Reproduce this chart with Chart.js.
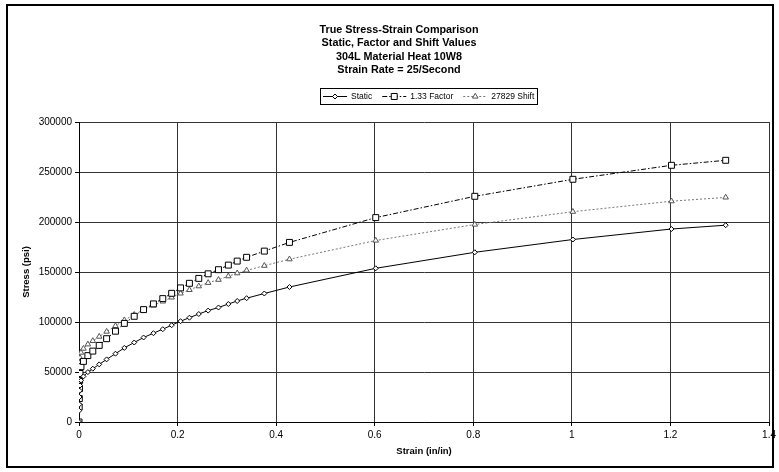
<!DOCTYPE html>
<html>
<head>
<meta charset="utf-8">
<title>True Stress-Strain Comparison</title>
<script src="https://cdn.jsdelivr.net/npm/chart.js@4.4.1/dist/chart.umd.min.js"></script>
<style>
  html, body { margin: 0; padding: 0; background: #fff; overflow: hidden; }
  #chart { display: block; }
</style>
</head>
<body>
<canvas id="chart" width="779" height="472"></canvas>
<script>
// strain (in/in), shared by the three curves
const strain = [0, 0.0004, 0.0007, 0.001, 0.0013, 0.002, 0.004, 0.009, 0.018, 0.028, 0.041, 0.056,
  0.074, 0.092, 0.112, 0.131, 0.151, 0.170, 0.188, 0.206, 0.224, 0.243, 0.262, 0.283, 0.303,
  0.321, 0.340, 0.376, 0.427, 0.602, 0.803, 1.002, 1.202, 1.312];

// stress (psi)
const staticStress = [0, 11300, 17600, 25000, 31300, 36500, 41600, 45600, 49900, 53300, 57600, 62600,
  68300, 74100, 79500, 84500, 88800, 92800, 96800, 100800, 104300, 108000, 111400, 114500, 118000,
  121000, 123800, 128500, 135000, 153700, 169700, 182500, 193000, 196800];
const factorStress = [0, 15000, 23400, 33300, 41600, 48500, 55300, 60600, 66400, 70900, 76600, 83300,
  90800, 98600, 105700, 112400, 118100, 123400, 128700, 134100, 138700, 143600, 148200, 152300, 156900,
  160900, 164700, 170900, 179600, 204400, 225700, 242700, 256700, 261700];
const shiftStress = [0, 39100, 45400, 52800, 59100, 64300, 69400, 73400, 77700, 81100, 85400, 90400,
  96100, 101900, 107300, 112300, 116600, 120600, 124600, 128600, 132100, 135800, 139200, 142300, 145800,
  148800, 151600, 156300, 162800, 181500, 197500, 210300, 220800, 224600];

const seriesNames = ['Static', '1.33 Factor', '27829 Shift'];
const titleLines = [
  'True Stress-Strain Comparison',
  'Static, Factor and Shift Values',
  '304L Material Heat 10W8',
  'Strain Rate = 25/Second'
];

const FONT = 'Arial, "Liberation Sans", sans-serif';

function points(ys){
  return strain.map((x, i) => ({ x, y: ys[i] }));
}

// small marker shapes for the legend
function marker(ctx, style, x, y, r){
  ctx.beginPath();
  if(style === 'rectRot'){
    ctx.moveTo(x, y - r); ctx.lineTo(x + r, y); ctx.lineTo(x, y + r); ctx.lineTo(x - r, y);
  } else if(style === 'rect'){
    const s = r * Math.SQRT1_2;
    ctx.rect(x - s, y - s, 2 * s, 2 * s);
  } else {
    ctx.moveTo(x, y - r); ctx.lineTo(x + r * 0.87, y + r * 0.5); ctx.lineTo(x - r * 0.87, y + r * 0.5);
  }
  ctx.closePath();
  ctx.fill();
  ctx.stroke();
}

const decorations = {
  id: 'decorations',
  beforeDraw(chart){
    const ctx = chart.ctx;
    ctx.save();
    ctx.fillStyle = '#fff';
    ctx.fillRect(0, 0, chart.width, chart.height);
    ctx.restore();
  },
  afterDraw(chart){
    const ctx = chart.ctx;
    ctx.save();

    // outer frame
    ctx.strokeStyle = '#000';
    ctx.lineWidth = 2;
    ctx.strokeRect(7, 5, 766, 462);

    // title
    ctx.fillStyle = '#000';
    ctx.font = 'bold 10.8px ' + FONT;
    ctx.textAlign = 'center';
    ctx.textBaseline = 'middle';
    titleLines.forEach((t, i) => ctx.fillText(t, 399, 30 + i * 13.5));

    // legend
    ctx.font = '8.5px ' + FONT;
    ctx.textAlign = 'left';
    const sample = 24, gapText = 4, gapItem = 10, pad = 3;
    const widths = seriesNames.map(n => ctx.measureText(n).width);
    let total = pad * 2 + gapItem * (seriesNames.length - 1);
    widths.forEach(w => total += sample + gapText + w);
    const boxL = Math.round(428.5 - total / 2);
    const boxT = 88, boxH = 16, cy = boxT + boxH / 2;
    ctx.lineWidth = 1;
    ctx.strokeStyle = '#000';
    ctx.setLineDash([]);
    ctx.strokeRect(boxL + 0.5, boxT + 0.5, Math.round(total), boxH);
    let x = boxL + pad;
    chart.data.datasets.forEach((ds, i) => {
      ctx.strokeStyle = ds.borderColor;
      ctx.setLineDash(ds.borderDash || []);
      ctx.beginPath();
      ctx.moveTo(x, cy + 0.5);
      ctx.lineTo(x + sample, cy + 0.5);
      ctx.stroke();
      ctx.setLineDash([]);
      ctx.fillStyle = ds.pointBackgroundColor;
      ctx.strokeStyle = ds.pointBorderColor;
      marker(ctx, ds.pointStyle, x + sample / 2, cy + 0.5, ds.pointRadius);
      ctx.fillStyle = '#000';
      ctx.fillText(seriesNames[i], x + sample + gapText, cy + 1);
      x += sample + gapText + widths[i] + gapItem;
    });

    ctx.restore();
  }
};

const gridColor = '#333';

new Chart(document.getElementById('chart').getContext('2d'), {
  type: 'line',
  data: {
    datasets: [
      {
        label: seriesNames[0],
        data: points(staticStress),
        borderColor: '#000',
        borderWidth: 1,
        pointStyle: 'rectRot',
        pointRadius: 2.5,
        pointBackgroundColor: '#fff',
        pointBorderColor: '#000',
        pointBorderWidth: 1,
      },
      {
        label: seriesNames[1],
        data: points(factorStress),
        borderColor: '#000',
        borderWidth: 1,
        borderDash: [5, 2, 1.5, 2],
        pointStyle: 'rect',
        pointRadius: 4.2,
        pointBackgroundColor: '#fff',
        pointBorderColor: '#000',
        pointBorderWidth: 1,
      },
      {
        label: seriesNames[2],
        data: points(shiftStress),
        borderColor: '#777',
        borderWidth: 1,
        borderDash: [2, 2],
        pointStyle: 'triangle',
        pointRadius: 3.2,
        pointBackgroundColor: '#fff',
        pointBorderColor: '#555',
        pointBorderWidth: 1,
      },
    ]
  },
  options: {
    responsive: false,
    animation: false,
    layout: { padding: { left: 0, right: 8, top: 122, bottom: 0 } },
    plugins: {
      legend: { display: false },
      title: { display: false },
      tooltip: { enabled: false },
    },
    scales: {
      x: {
        type: 'linear',
        min: 0, max: 1.4,
        afterFit(scale){ scale.height = 50; },
        border: { color: '#000', width: 1 },
        grid: { color: gridColor, tickLength: 4, tickColor: '#000' },
        ticks: {
          stepSize: 0.2, padding: 3, color: '#000', maxRotation: 0, autoSkip: false,
          font: { family: FONT, size: 10 },
          callback: v => String(Math.round(v * 10) / 10),
        },
        title: {
          display: true, text: 'Strain (in/in)', color: '#000',
          font: { family: FONT, size: 9.5, weight: 'bold' },
          padding: { top: 0, bottom: 15 },
        },
      },
      y: {
        min: 0, max: 300000,
        afterFit(scale){ scale.width = 79; },
        border: { color: '#000', width: 1 },
        grid: { color: gridColor, tickLength: 4, tickColor: '#000' },
        ticks: {
          stepSize: 50000, padding: 3, color: '#000',
          font: { family: FONT, size: 10 },
          callback: v => String(v),
        },
        title: {
          display: true, text: 'Stress (psi)', color: '#000',
          font: { family: FONT, size: 9.5, weight: 'bold' },
          padding: { top: 21, bottom: 0 },
        },
      },
    },
  },
  plugins: [decorations],
});
</script>
</body>
</html>
